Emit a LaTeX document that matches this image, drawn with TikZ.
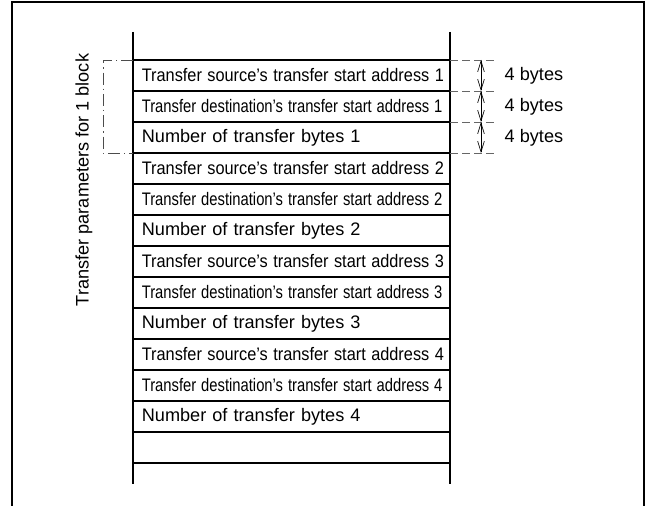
\documentclass[tikz,border=0pt]{standalone}
\usepackage{fontspec}
\setmainfont{Liberation Sans}
\usetikzlibrary{arrows.meta,positioning}

\begin{document}
\begin{tikzpicture}[x=0.75pt,y=-0.75pt,
  font=\fontsize{13.6}{16}\selectfont,
  cell/.style={draw,line width=1.1pt,minimum width=237.75pt,minimum height=23.25pt,outer sep=0pt,
               inner xsep=6.6pt,inner ysep=0pt,text width=224.5pt,align=left,anchor=north west},
  guide/.style={draw=black!60,line width=0.5pt,dash pattern=on 6pt off 3pt},
  span/.style={line width=0.5pt,{Straight Barb[length=8pt,width=5pt]}-{Straight Barb[length=8pt,width=5pt]}}]
\useasboundingbox (0,0) rectangle (647,506);
\newcommand{\srcrow}[1]{\scalebox{0.9}[1]{Transfer source's transfer start address #1}}
\newcommand{\dstrow}[1]{\scalebox{0.815}[1]{Transfer destination's transfer start address #1}}

\draw[line width=1.5pt] (12,506) -- (12,2) -- (644,2) -- (644,506);

\coordinate (top) at (133,60);
\node[cell] (src1) at (top) {\srcrow{1}};
\node[cell,below=0pt of src1] (dst1) {\dstrow{1}};
\node[cell,below=0pt of dst1] (num1) {Number of transfer bytes 1};
\foreach \k [count=\p] in {2,3,4}{
  \node[cell,below=0pt of num\p] (src\k) {\srcrow{\k}};
  \node[cell,below=0pt of src\k] (dst\k) {\dstrow{\k}};
  \node[cell,below=0pt of dst\k] (num\k) {Number of transfer bytes \k};}
\node[cell,below=0pt of num4] (spare) {};

\coordinate (lt) at (133,32); \coordinate (lb) at (133,484);
\coordinate (rt) at (450,32); \coordinate (rb) at (450,484);
\draw[line width=1.1pt] (lt) -- (lb); \draw[line width=1.1pt] (rt) -- (rb);

% block bracket
\coordinate (bt) at (103,60); \coordinate (bb) at (103,153);
\draw[draw=black!70,line width=0.5pt,dash pattern=on 9pt off 3pt on 1pt off 3pt]
  (src1.north west) -- (bt) -- (bb) -- (num1.south west);
\node[rotate=90] (blk) at (84,180) {Transfer parameters for 1 block};

% byte sizes
\coordinate (m0) at (481,60); \coordinate (m1) at (481,91);
\coordinate (m2) at (481,122); \coordinate (m3) at (481,153);
\draw[guide] (src1.north east) -- (497,60);
\draw[guide] (dst1.north east) -- (497,91);
\draw[guide] (num1.north east) -- (497,122);
\draw[guide] (num1.south east) -- (497,153);
\draw[span] (m0) -- (m1); \draw[span] (m1) -- (m2); \draw[span] (m2) -- (m3);
\node[anchor=west] (b1) at (500,75.5) {4 bytes};
\node[anchor=west] (b2) at (500,106.5) {4 bytes};
\node[anchor=west] (b3) at (500,137.5) {4 bytes};
\end{tikzpicture}
\end{document}
